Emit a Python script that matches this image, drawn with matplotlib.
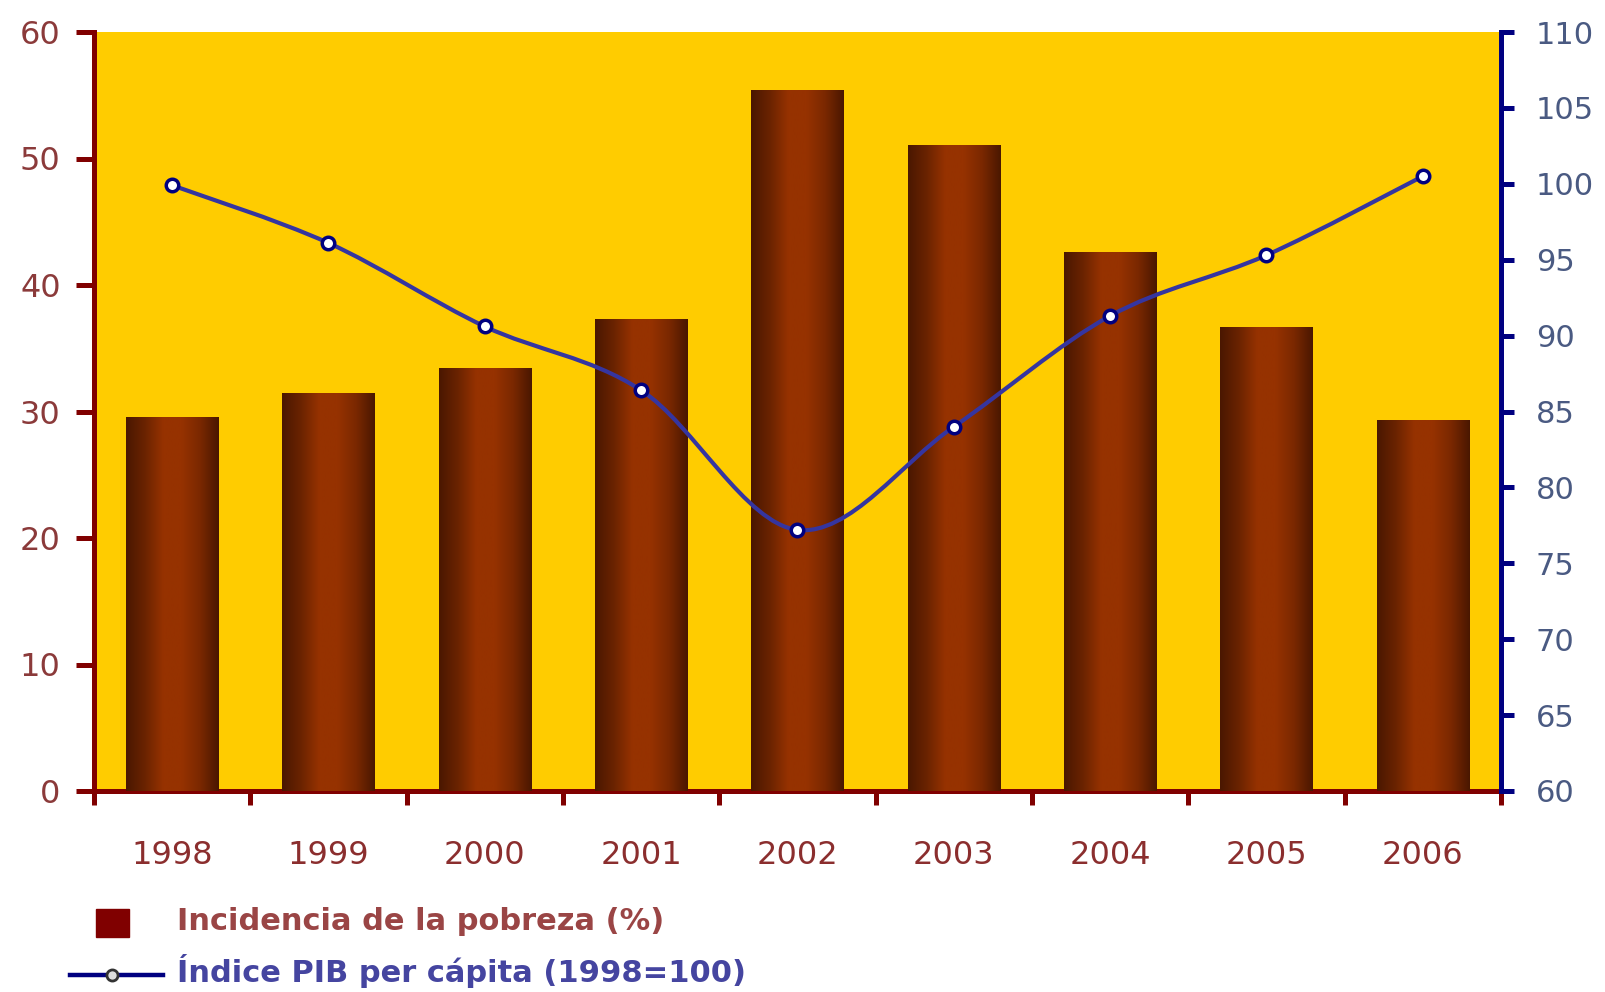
import numpy as np
import matplotlib
matplotlib.use("Agg")
import matplotlib.pyplot as plt
from matplotlib.colors import LinearSegmentedColormap
from matplotlib.path import Path
from matplotlib.patches import PathPatch, Rectangle
from matplotlib.lines import Line2D

# datos
years = ["1998", "1999", "2000", "2001", "2002", "2003", "2004", "2005", "2006"]
pobreza = [29.6, 31.5, 33.4, 37.3, 55.4, 51.1, 42.6, 36.7, 29.3]
pib = [99.9, 96.1, 90.6, 86.4, 77.2, 84.0, 91.3, 95.3, 100.5]

MAROON = "#800000"
NAVY = "#000080"
YELLOW = "#FFCC00"
LINE_BLUE = "#3535A0"

plt.rcParams["font.family"] = ["DejaVu Sans"]

fig = plt.figure(figsize=(16.06, 9.92), dpi=100)
ax = fig.add_axes([94 / 1606, 1 - 791 / 992, (1501 - 94) / 1606, (791 - 32) / 992])
ax.set_facecolor(YELLOW)

x = np.arange(len(years))
bars = ax.bar(x, pobreza, width=0.59, color="#963200", zorder=2)

# degradado de las barras
cmap = LinearSegmentedColormap.from_list(
    "barra", ["#4A1700", "#6A2300", "#963200", "#963200", "#7A2800", "#4A1700"])
grad = np.linspace(0, 1, 256).reshape(1, -1)
for b in bars:
    x0, y0 = b.get_x(), b.get_y()
    w, h = b.get_width(), b.get_height()
    im = ax.imshow(grad, cmap=cmap, aspect="auto", extent=[x0, x0 + w, y0, y0 + h],
                   zorder=3, interpolation="bilinear")
    im.set_clip_path(b)

ax.set_xlim(-0.5, len(years) - 0.5)
ax.set_ylim(0, 60)
ax.set_yticks(range(0, 61, 10))
ax.set_xticks(np.arange(-0.5, len(years)), [""] * (len(years) + 1))
ax.set_xticks(x, years, minor=True)
ax.tick_params(axis="x", which="major", length=10, width=3.6, color=MAROON, direction="out")
ax.tick_params(axis="x", which="minor", length=0, pad=35, labelsize=23, labelcolor="#8B2E2E")
ax.tick_params(axis="y", length=13, width=3.6, color=MAROON, pad=11, labelsize=23,
               labelcolor="#8B3A3A")
for s in ["top", "right"]:
    ax.spines[s].set_visible(False)
for s in ["left", "bottom"]:
    ax.spines[s].set_color(MAROON)
    ax.spines[s].set_linewidth(3.6)

# eje derecho
ax2 = ax.twinx()
ax2.set_ylim(60, 110)
ax2.set_yticks(range(60, 111, 5))
ax2.tick_params(axis="y", length=9, width=3.6, color=NAVY, pad=16, labelsize=22,
                labelcolor="#4A5A82")
for s in ["top", "left", "bottom"]:
    ax2.spines[s].set_visible(False)
ax2.spines["right"].set_color(NAVY)
ax2.spines["right"].set_linewidth(3.6)

# curva suavizada (Catmull-Rom -> Bezier)
px = np.array(x, dtype=float)
py = np.array(pib, dtype=float)
pts = np.column_stack([px, py])
ext = np.vstack([pts[0], pts, pts[-1]])
verts = [tuple(pts[0])]
codes = [Path.MOVETO]
for i in range(1, len(ext) - 2):
    p0, p1, p2, p3 = ext[i - 1], ext[i], ext[i + 1], ext[i + 2]
    c1 = p1 + (p2 - p0) / 6
    c2 = p2 - (p3 - p1) / 6
    verts += [tuple(c1), tuple(c2), tuple(p2)]
    codes += [Path.CURVE4] * 3
ax2.add_patch(PathPatch(Path(verts, codes), fill=False, edgecolor=LINE_BLUE, lw=3, zorder=4))
ax2.plot(px, py, ls="none", marker="o", ms=9, mfc="white", mec=NAVY, mew=2.5, zorder=5)

# leyenda
fig.patches.append(Rectangle((96 / 1606, 1 - 937 / 992), 33 / 1606, 28 / 992,
                             transform=fig.transFigure, color=MAROON))
fig.text(177 / 1606, 1 - 922 / 992, "Incidencia de la pobreza (%)", fontsize=22,
         color="#9A4545", va="center", fontweight="bold")
fig.lines.append(Line2D([70 / 1606, 163 / 1606], [1 - 975 / 992] * 2, transform=fig.transFigure,
                        color=NAVY, lw=3.2))
fig.lines.append(Line2D([112 / 1606], [1 - 975 / 992], transform=fig.transFigure, marker="o",
                        ms=8, mfc="#DDDDDD", mec="#333333", mew=2, ls="none"))
fig.text(177 / 1606, 1 - 971 / 992, "Índice PIB per cápita (1998=100)", fontsize=22,
         color="#4545A0", va="center", fontweight="bold")

fig.savefig("out.png", dpi=100, facecolor="white")
